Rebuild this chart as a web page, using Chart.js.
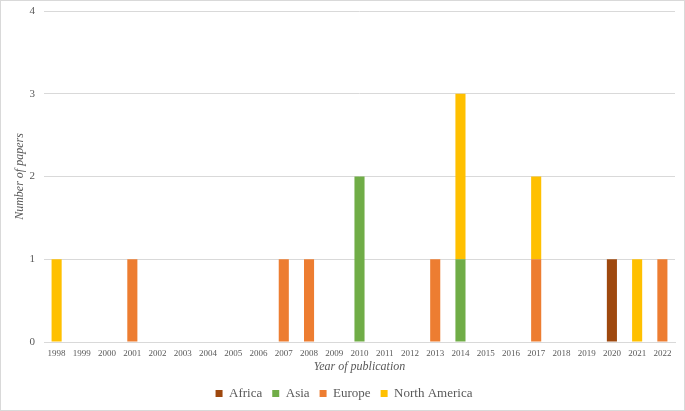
<!DOCTYPE html>
<html>
<head>
<meta charset="utf-8">
<script src="https://cdn.jsdelivr.net/npm/chart.js@4"></script>
<style>
html,body{margin:0;padding:0;background:#fff;}
#wrap{position:relative;width:683px;height:409px;border:1px solid #d9d9d9;}
</style>
</head>
<body>
<div id="wrap"><canvas id="c" width="683" height="409"></canvas></div>
<script>
const years = ["1998","1999","2000","2001","2002","2003","2004","2005","2006","2007","2008","2009","2010","2011","2012","2013","2014","2015","2016","2017","2018","2019","2020","2021","2022"];
const africa       = [0,0,0,0,0,0,0,0,0,0,0,0,0,0,0,0,0,0,0,0,0,0,1,0,0];
const asia         = [0,0,0,0,0,0,0,0,0,0,0,0,2,0,0,0,1,0,0,0,0,0,0,0,0];
const europe       = [0,0,0,1,0,0,0,0,0,1,1,0,0,0,0,1,0,0,0,1,0,0,0,0,1];
const northAmerica = [1,0,0,0,0,0,0,0,0,0,0,0,0,0,0,0,2,0,0,1,0,0,0,1,0];
const yTicks = [0,1,2,3,4];

const FONT = "'Liberation Serif', 'DejaVu Serif', serif";
const ds = (label, data, color) => ({label, data, backgroundColor: color, borderWidth: 0, categoryPercentage: 1, barPercentage: 0.4});

new Chart(document.getElementById('c'), {
  type: 'bar',
  data: {
    labels: years,
    datasets: [
      ds('Africa', africa, '#9E480E'),
      ds('Asia', asia, '#70AD47'),
      ds('Europe', europe, '#ED7D31'),
      ds('North America', northAmerica, '#FFC000')
    ]
  },
  options: {
    responsive: false,
    animation: false,
    layout: {padding: {top: 0, right: 9, left: 12, bottom: 0}},
    plugins: {
      tooltip: {enabled: false},
      legend: {
        position: 'bottom',
        labels: {
          boxWidth: 7, boxHeight: 7, padding: 10,
          color: '#595959',
          font: {family: FONT, size: 13}
        }
      }
    },
    scales: {
      x: {
        stacked: true,
        afterFit: s => { s.height = 35; },
        grid: {display: false, drawTicks: false},
        border: {display: true, color: '#d9d9d9'},
        ticks: {color: '#595959', font: {family: FONT, size: 9}, padding: 6, maxRotation: 0, autoSkip: false},
        title: {display: true, text: 'Year of publication', color: '#595959', font: {family: FONT, size: 12, style: 'italic'}, padding: {top: 0, bottom: 3}}
      },
      y: {
        stacked: true,
        min: 0, max: 4,
        afterFit: s => { s.width = 31; s.paddingTop = 10; },
        afterBuildTicks: s => { s.ticks = yTicks.map(v => ({value: v})); },
        grid: {color: '#d9d9d9', drawTicks: false},
        border: {display: false},
        ticks: {color: '#595959', font: {family: FONT, size: 11}, padding: 9},
        title: {display: true, text: 'Number of papers', color: '#595959', font: {family: FONT, size: 12, style: 'italic'}, padding: {top: 0, bottom: 0}}
      }
    }
  }
});
</script>
</body>
</html>
